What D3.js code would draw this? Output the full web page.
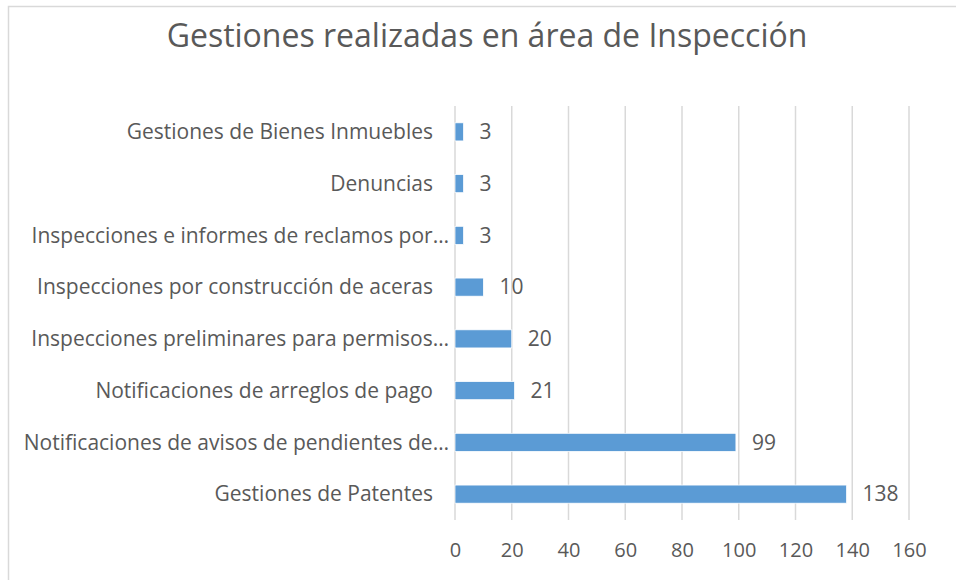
<!DOCTYPE html>
<html>
<head>
<meta charset="utf-8">
<script src="https://cdn.jsdelivr.net/npm/d3@7"></script>
<style>
    body { margin: 0; background: #fff; }
    text { font-family: "Open Sans", Lato, sans-serif; fill: #595959; }
</style>
</head>
<body>
<div id="chart"></div>
<script>
const categories = [
    'Gestiones de Bienes Inmuebles',
    'Denuncias',
    'Inspecciones e informes de reclamos por…',
    'Inspecciones por construcción de aceras',
    'Inspecciones preliminares para permisos…',
    'Notificaciones de arreglos de pago',
    'Notificaciones de avisos de pendientes de…',
    'Gestiones de Patentes'
];
const values = [3, 3, 3, 10, 20, 21, 99, 138];
const xTicks = [0, 20, 40, 60, 80, 100, 120, 140, 160];
const title = 'Gestiones realizadas en área de Inspección';

const width = 956;
const height = 580;
const margin = { top: 106, right: 47, bottom: 60, left: 455 };
const font = '"Open Sans", Lato, sans-serif';

const data = categories.map((c, i) => ({ name: c, value: values[i] }));

const svg = d3.select('#chart')
    .append('svg')
    .attr('width', width)
    .attr('height', height);

// chart area border
svg.append('rect')
    .attr('x', 8.5)
    .attr('y', 6.5)
    .attr('width', width + 10)
    .attr('height', height + 10)
    .attr('fill', 'none')
    .attr('stroke', '#d9d9d9')
    .attr('stroke-width', 1.5);

svg.append('text')
    .attr('x', 487)
    .attr('y', 47)
    .attr('text-anchor', 'middle')
    .style('font-size', '32px')
    .text(title);

const xScale = d3.scaleLinear()
    .domain([0, 160])
    .range([margin.left, width - margin.right]);

const yScale = d3.scaleBand()
    .domain(categories)
    .range([margin.top, height - margin.bottom])
    .paddingInner(0.65)
    .paddingOuter(0.325);

// vertical gridlines
svg.append('g')
    .selectAll('line')
    .data(xTicks)
    .enter()
    .append('line')
    .attr('x1', d => xScale(d))
    .attr('x2', d => xScale(d))
    .attr('y1', margin.top)
    .attr('y2', height - margin.bottom)
    .attr('stroke', '#d9d9d9')
    .attr('stroke-width', 1.5);

const xAxis = d3.axisBottom(xScale).tickValues(xTicks).tickSize(0).tickPadding(14);

svg.append('g')
    .attr('id', 'x-axis')
    .attr('transform', `translate(0, ${height - margin.bottom + 9})`)
    .call(xAxis)
    .call(g => g.select('.domain').remove())
    .selectAll('text')
    .style('font-size', '20px')
    .style('font-family', font)
    .attr('fill', '#595959');

// category labels
svg.append('g')
    .selectAll('text')
    .data(data)
    .enter()
    .append('text')
    .attr('x', d => d.name.endsWith('…') ? margin.left - 6 : margin.left - 22)
    .attr('y', d => yScale(d.name) + yScale.bandwidth() / 2)
    .attr('dy', '0.35em')
    .attr('text-anchor', 'end')
    .style('font-size', '21px')
    .text(d => d.name);

svg.selectAll('.bar')
    .data(data)
    .enter()
    .append('rect')
    .attr('class', 'bar')
    .attr('x', xScale(0))
    .attr('y', d => yScale(d.name))
    .attr('width', d => xScale(d.value) - xScale(0))
    .attr('height', yScale.bandwidth())
    .attr('fill', '#5b9bd5')
    .attr('stroke', '#ffffff')
    .attr('stroke-width', 0.75);

svg.selectAll('.value')
    .data(data)
    .enter()
    .append('text')
    .attr('class', 'value')
    .attr('x', d => xScale(d.value) + 16)
    .attr('y', d => yScale(d.name) + yScale.bandwidth() / 2)
    .attr('dy', '0.35em')
    .style('font-size', '21px')
    .text(d => d.value);
</script>
</body>
</html>
